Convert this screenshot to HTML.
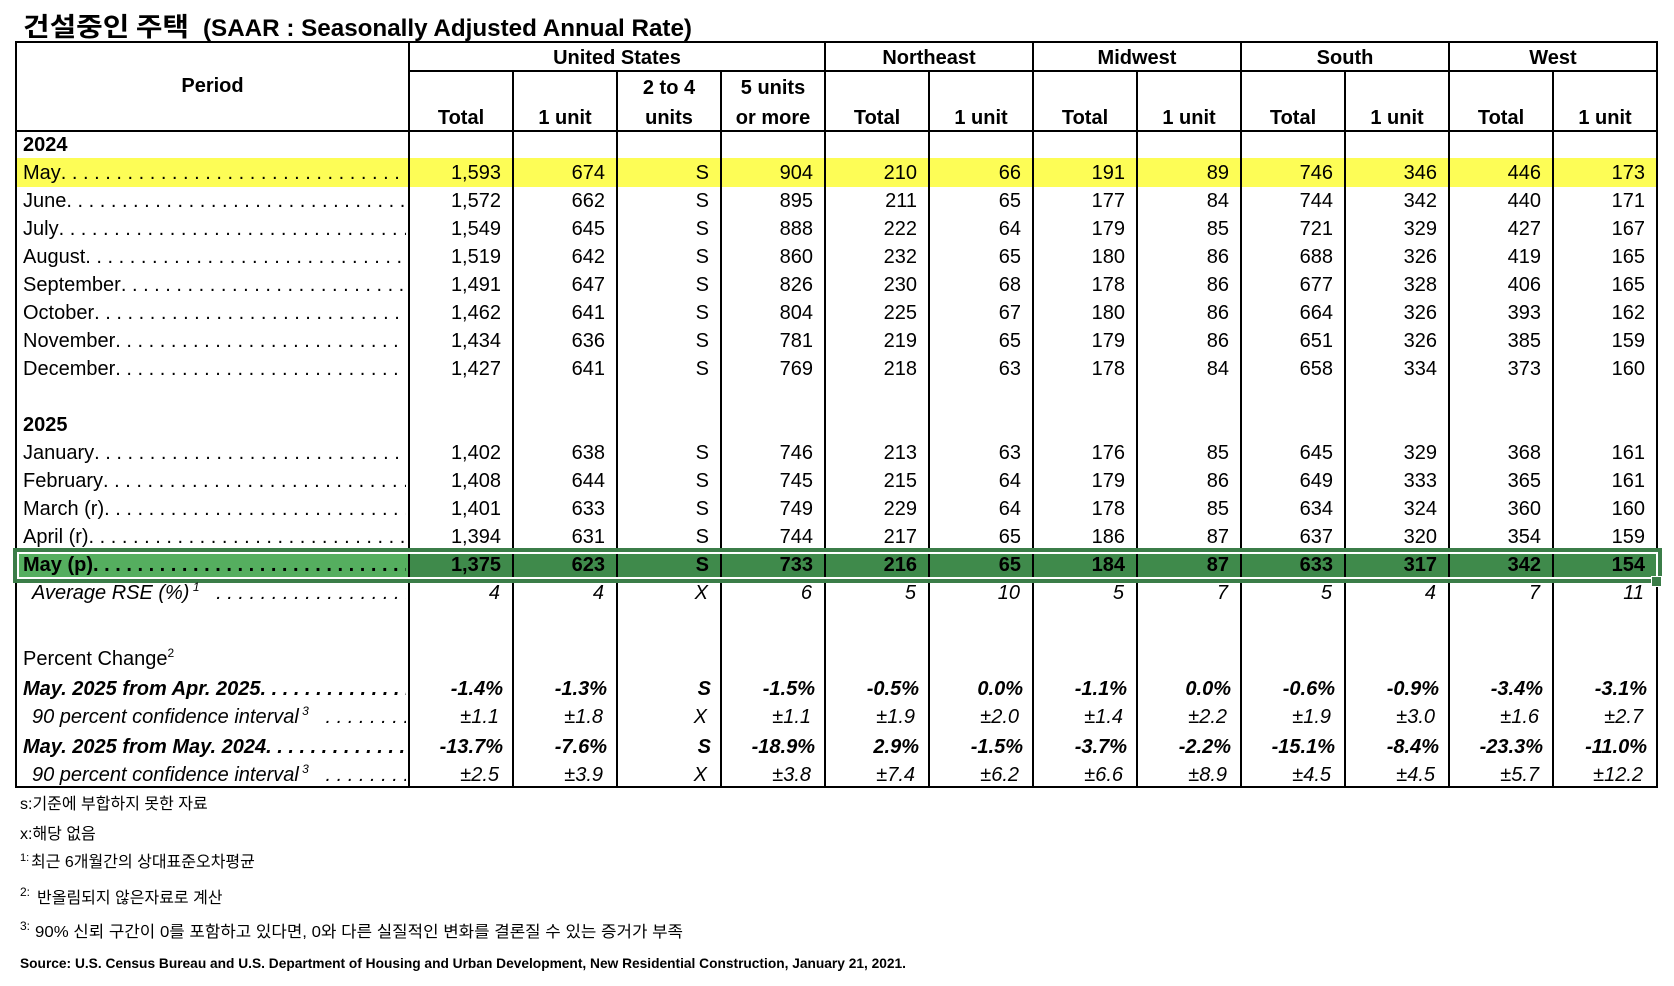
<!DOCTYPE html>
<html><head><meta charset="utf-8">
<style>
*{margin:0;padding:0;box-sizing:border-box}
html,body{width:1674px;height:986px;background:#fff;overflow:hidden}
body{position:relative;font-family:"Liberation Sans","Noto Sans CJK KR",sans-serif;color:#000}
.hl{position:absolute;background:#000;height:2px}
.vl{position:absolute;background:#000;width:2px}
.fill{position:absolute}
.ht{position:absolute;font-weight:bold;font-size:20px;line-height:28px;text-align:center;white-space:nowrap}
table{position:absolute;left:16px;top:131px;width:1641px;table-layout:fixed;border-collapse:collapse;border-spacing:0;font-size:20px;z-index:5}
td{padding:0 12px 0 0;text-align:right;white-space:nowrap;overflow:hidden;vertical-align:top}
tr.r28 td{height:28px;line-height:28px}
tr.r29 td{height:29px;line-height:29px}
tr.r36 td{height:36px;line-height:36px}
td.p{text-align:left;padding:0 3px 0 7px}
td.p2{text-align:left;padding:0 3px 0 16px}
.lw{display:flex;white-space:nowrap}
.lw .d{flex:1;min-width:0;overflow:hidden;white-space:nowrap}
.b{font-weight:bold}
.i{font-style:italic}
.bi{font-weight:bold;font-style:italic}
tr.pc td{padding-right:10px}
tr.ci td{padding-right:14px}
tr.rse td{padding-right:13px}
tr.pc td.p, tr.ci td.p2, tr.rse td.p2{padding-right:3px}
tr.ci td.p2, tr.rse td.p2{padding-left:16px}
tr.pc td.p{padding-left:7px}
.sup{font-size:12px;position:relative;top:-8px}
</style></head>
<body>

<svg width="1674" height="986" style="position:absolute;left:0;top:0" xmlns="http://www.w3.org/2000/svg">
  <text x="23" y="36" font-family="'Noto Sans CJK KR','Liberation Sans',sans-serif" font-weight="700" font-size="26" textLength="166" lengthAdjust="spacingAndGlyphs">건설중인 주택</text>
  <text x="203" y="36" font-family="'Liberation Sans',sans-serif" font-weight="700" font-size="24" textLength="489" lengthAdjust="spacingAndGlyphs">(SAAR : Seasonally Adjusted Annual Rate)</text>

  <g font-family="'Liberation Sans','Noto Sans CJK KR',sans-serif" font-size="16">
    <text x="20" y="809">s:기준에 부합하지 못한 자료</text>
    <text x="20" y="839">x:해당 없음</text>
    <text x="20" y="861" font-size="11">1:</text>
    <text x="31" y="867">최근 6개월간의 상대표준오차평균</text>
    <text x="20" y="896" font-size="12">2:</text>
    <text x="37" y="903">반올림되지 않은자료로 계산</text>
    <text x="20" y="930" font-size="12">3:</text>
    <text x="35" y="937" textLength="648" lengthAdjust="spacingAndGlyphs">90% 신뢰 구간이 0를 포함하고 있다면, 0와 다른 실질적인 변화를 결론질 수 있는 증거가 부족</text>
  </g>
  <text x="20" y="968" font-family="'Liberation Sans',sans-serif" font-weight="700" font-size="14" textLength="886" lengthAdjust="spacingAndGlyphs">Source: U.S. Census Bureau and U.S. Department of Housing and Urban Development, New Residential Construction, January 21, 2021.</text>
</svg>

<!-- fills -->
<div class="fill" style="left:16px;top:158px;width:1641px;height:29px;background:#fdfd56"></div>
<div class="fill" style="left:16px;top:551px;width:393px;height:28px;background:#55ae5f"></div>
<div class="fill" style="left:409px;top:551px;width:1248px;height:28px;background:#3f8a4b"></div>

<!-- horizontal lines -->
<div class="hl" style="left:15px;top:41px;width:1643px"></div>
<div class="hl" style="left:408px;top:70px;width:1250px"></div>
<div class="hl" style="left:15px;top:130px;width:1643px"></div>
<div class="hl" style="left:15px;top:786px;width:1643px"></div>

<!-- vertical lines (outer + group) -->
<div class="vl" style="left:15px;top:41px;height:747px"></div>
<div class="vl" style="left:408px;top:41px;height:747px"></div>
<div class="vl" style="left:824px;top:41px;height:747px"></div>
<div class="vl" style="left:1032px;top:41px;height:747px"></div>
<div class="vl" style="left:1240px;top:41px;height:747px"></div>
<div class="vl" style="left:1448px;top:41px;height:747px"></div>
<div class="vl" style="left:1656px;top:41px;height:747px"></div>
<!-- inner sub-column lines -->
<div class="vl" style="left:512px;top:70px;height:718px"></div>
<div class="vl" style="left:616px;top:70px;height:718px"></div>
<div class="vl" style="left:720px;top:70px;height:718px"></div>
<div class="vl" style="left:928px;top:70px;height:718px"></div>
<div class="vl" style="left:1136px;top:70px;height:718px"></div>
<div class="vl" style="left:1344px;top:70px;height:718px"></div>
<div class="vl" style="left:1552px;top:70px;height:718px"></div>

<!-- selection box -->
<div style="position:absolute;left:13px;top:548px;width:1649px;height:35px;border:4px solid #3b7d48;box-shadow:inset 0 0 0 2px #fff;z-index:3"></div>
<div style="position:absolute;left:1651px;top:576px;width:11px;height:11px;background:#3b7d48;border:1px solid #fff;z-index:4"></div>

<!-- header text -->
<div class="ht" style="left:16px;top:72px;width:393px">Period</div>
<div class="ht" style="left:409px;top:44px;width:416px">United States</div>
<div class="ht" style="left:825px;top:44px;width:208px">Northeast</div>
<div class="ht" style="left:1033px;top:44px;width:208px">Midwest</div>
<div class="ht" style="left:1241px;top:44px;width:208px">South</div>
<div class="ht" style="left:1449px;top:44px;width:208px">West</div>

<div class="ht" style="left:409px;top:104px;width:104px">Total</div>
<div class="ht" style="left:513px;top:104px;width:104px">1 unit</div>
<div class="ht" style="left:617px;top:74px;width:104px">2 to 4</div>
<div class="ht" style="left:617px;top:104px;width:104px">units</div>
<div class="ht" style="left:721px;top:74px;width:104px">5 units</div>
<div class="ht" style="left:721px;top:104px;width:104px">or more</div>
<div class="ht" style="left:825px;top:104px;width:104px">Total</div>
<div class="ht" style="left:929px;top:104px;width:104px">1 unit</div>
<div class="ht" style="left:1033px;top:104px;width:104px">Total</div>
<div class="ht" style="left:1137px;top:104px;width:104px">1 unit</div>
<div class="ht" style="left:1241px;top:104px;width:104px">Total</div>
<div class="ht" style="left:1345px;top:104px;width:104px">1 unit</div>
<div class="ht" style="left:1449px;top:104px;width:104px">Total</div>
<div class="ht" style="left:1553px;top:104px;width:104px">1 unit</div>

<table>
<colgroup><col style="width:393px"><col style="width:104px"><col style="width:104px"><col style="width:104px"><col style="width:104px"><col style="width:104px"><col style="width:104px"><col style="width:104px"><col style="width:104px"><col style="width:104px"><col style="width:104px"><col style="width:104px"><col style="width:104px"></colgroup>
<tr class="r28"><td class="p b">2024</td><td></td><td></td><td></td><td></td><td></td><td></td><td></td><td></td><td></td><td></td><td></td><td></td></tr>
<tr class="r28"><td class="p"><div class="lw"><span>May</span><span class="d"> . . . . . . . . . . . . . . . . . . . . . . . . . . . . . . . . . . . . . . . .</span></div></td><td>1,593</td><td>674</td><td>S</td><td>904</td><td>210</td><td>66</td><td>191</td><td>89</td><td>746</td><td>346</td><td>446</td><td>173</td></tr>
<tr class="r28"><td class="p"><div class="lw"><span>June</span><span class="d">. . . . . . . . . . . . . . . . . . . . . . . . . . . . . . . . . . . . . . . .</span></div></td><td>1,572</td><td>662</td><td>S</td><td>895</td><td>211</td><td>65</td><td>177</td><td>84</td><td>744</td><td>342</td><td>440</td><td>171</td></tr>
<tr class="r28"><td class="p"><div class="lw"><span>July</span><span class="d">. . . . . . . . . . . . . . . . . . . . . . . . . . . . . . . . . . . . . . . .</span></div></td><td>1,549</td><td>645</td><td>S</td><td>888</td><td>222</td><td>64</td><td>179</td><td>85</td><td>721</td><td>329</td><td>427</td><td>167</td></tr>
<tr class="r28"><td class="p"><div class="lw"><span>August</span><span class="d"> . . . . . . . . . . . . . . . . . . . . . . . . . . . . . . . . . . . . . . . .</span></div></td><td>1,519</td><td>642</td><td>S</td><td>860</td><td>232</td><td>65</td><td>180</td><td>86</td><td>688</td><td>326</td><td>419</td><td>165</td></tr>
<tr class="r28"><td class="p"><div class="lw"><span>September</span><span class="d"> . . . . . . . . . . . . . . . . . . . . . . . . . . . . . . . . . . . . . . . .</span></div></td><td>1,491</td><td>647</td><td>S</td><td>826</td><td>230</td><td>68</td><td>178</td><td>86</td><td>677</td><td>328</td><td>406</td><td>165</td></tr>
<tr class="r28"><td class="p"><div class="lw"><span>October</span><span class="d"> . . . . . . . . . . . . . . . . . . . . . . . . . . . . . . . . . . . . . . . .</span></div></td><td>1,462</td><td>641</td><td>S</td><td>804</td><td>225</td><td>67</td><td>180</td><td>86</td><td>664</td><td>326</td><td>393</td><td>162</td></tr>
<tr class="r28"><td class="p"><div class="lw"><span>November</span><span class="d"> . . . . . . . . . . . . . . . . . . . . . . . . . . . . . . . . . . . . . . . .</span></div></td><td>1,434</td><td>636</td><td>S</td><td>781</td><td>219</td><td>65</td><td>179</td><td>86</td><td>651</td><td>326</td><td>385</td><td>159</td></tr>
<tr class="r28"><td class="p"><div class="lw"><span>December</span><span class="d"> . . . . . . . . . . . . . . . . . . . . . . . . . . . . . . . . . . . . . . . .</span></div></td><td>1,427</td><td>641</td><td>S</td><td>769</td><td>218</td><td>63</td><td>178</td><td>84</td><td>658</td><td>334</td><td>373</td><td>160</td></tr>
<tr class="r28"><td class="p"></td><td></td><td></td><td></td><td></td><td></td><td></td><td></td><td></td><td></td><td></td><td></td><td></td></tr>
<tr class="r28"><td class="p b">2025</td><td></td><td></td><td></td><td></td><td></td><td></td><td></td><td></td><td></td><td></td><td></td><td></td></tr>
<tr class="r28"><td class="p"><div class="lw"><span>January</span><span class="d"> . . . . . . . . . . . . . . . . . . . . . . . . . . . . . . . . . . . . . . . .</span></div></td><td>1,402</td><td>638</td><td>S</td><td>746</td><td>213</td><td>63</td><td>176</td><td>85</td><td>645</td><td>329</td><td>368</td><td>161</td></tr>
<tr class="r28"><td class="p"><div class="lw"><span>February</span><span class="d"> . . . . . . . . . . . . . . . . . . . . . . . . . . . . . . . . . . . . . . . .</span></div></td><td>1,408</td><td>644</td><td>S</td><td>745</td><td>215</td><td>64</td><td>179</td><td>86</td><td>649</td><td>333</td><td>365</td><td>161</td></tr>
<tr class="r28"><td class="p"><div class="lw"><span>March (r)</span><span class="d"> . . . . . . . . . . . . . . . . . . . . . . . . . . . . . . . . . . . . . . . .</span></div></td><td>1,401</td><td>633</td><td>S</td><td>749</td><td>229</td><td>64</td><td>178</td><td>85</td><td>634</td><td>324</td><td>360</td><td>160</td></tr>
<tr class="r28"><td class="p"><div class="lw"><span>April (r)</span><span class="d"> . . . . . . . . . . . . . . . . . . . . . . . . . . . . . . . . . . . . . . . .</span></div></td><td>1,394</td><td>631</td><td>S</td><td>744</td><td>217</td><td>65</td><td>186</td><td>87</td><td>637</td><td>320</td><td>354</td><td>159</td></tr>
<tr class="r28 b"><td class="p"><div class="lw"><span>May (p)</span><span class="d"> . . . . . . . . . . . . . . . . . . . . . . . . . . . . . . . . . . . . . . . .</span></div></td><td>1,375</td><td>623</td><td>S</td><td>733</td><td>216</td><td>65</td><td>184</td><td>87</td><td>633</td><td>317</td><td>342</td><td>154</td></tr>
<tr class="r28 i rse"><td class="p2"><div class="lw"><span>Average RSE (%)<span class="sup"> 1</span></span><span class="d">&nbsp;&nbsp; . . . . . . . . . . . . . . . . . . . . . . . . . . . . . . . . . . . . .</span></div></td><td>4</td><td>4</td><td>X</td><td>6</td><td>5</td><td>10</td><td>5</td><td>7</td><td>5</td><td>4</td><td>7</td><td>11</td></tr>
<tr class="r36"><td class="p"></td><td></td><td></td><td></td><td></td><td></td><td></td><td></td><td></td><td></td><td></td><td></td><td></td></tr>
<tr class="r28"><td class="p">Percent Change<span class="sup">2</span></td><td></td><td></td><td></td><td></td><td></td><td></td><td></td><td></td><td></td><td></td><td></td><td></td></tr>
<tr class="r28 bi pc"><td class="p"><div class="lw"><span>May. 2025 from Apr. 2025</span><span class="d"> . . . . . . . . . . . . . . . . . . . . . . . . . . . .</span></div></td><td>-1.4%</td><td>-1.3%</td><td>S</td><td>-1.5%</td><td>-0.5%</td><td>0.0%</td><td>-1.1%</td><td>0.0%</td><td>-0.6%</td><td>-0.9%</td><td>-3.4%</td><td>-3.1%</td></tr>
<tr class="r28 i ci"><td class="p2"><div class="lw"><span>90 percent confidence interval<span class="sup"> 3</span></span><span class="d">&nbsp;&nbsp; . . . . . . . . . . . . . . . . . . . .</span></div></td><td>±1.1</td><td>±1.8</td><td>X</td><td>±1.1</td><td>±1.9</td><td>±2.0</td><td>±1.4</td><td>±2.2</td><td>±1.9</td><td>±3.0</td><td>±1.6</td><td>±2.7</td></tr>
<tr class="r28 bi pc"><td class="p"><div class="lw"><span>May. 2025 from May. 2024</span><span class="d"> . . . . . . . . . . . . . . . . . . . . . . . . . . . .</span></div></td><td>-13.7%</td><td>-7.6%</td><td>S</td><td>-18.9%</td><td>2.9%</td><td>-1.5%</td><td>-3.7%</td><td>-2.2%</td><td>-15.1%</td><td>-8.4%</td><td>-23.3%</td><td>-11.0%</td></tr>
<tr class="r28 i ci"><td class="p2"><div class="lw"><span>90 percent confidence interval<span class="sup"> 3</span></span><span class="d">&nbsp;&nbsp; . . . . . . . . . . . . . . . . . . . .</span></div></td><td>±2.5</td><td>±3.9</td><td>X</td><td>±3.8</td><td>±7.4</td><td>±6.2</td><td>±6.6</td><td>±8.9</td><td>±4.5</td><td>±4.5</td><td>±5.7</td><td>±12.2</td></tr>
</table>

</body></html>
